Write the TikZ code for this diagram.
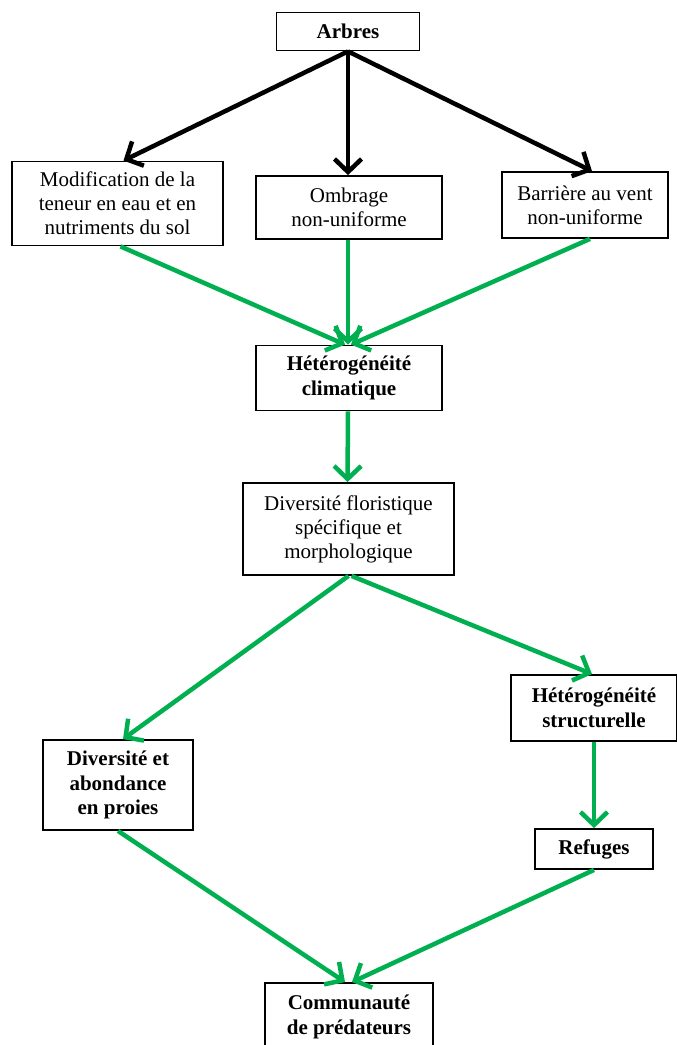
\documentclass[tikz,border=0pt]{standalone}
\usepackage{fontspec}
\setmainfont{Liberation Serif}
\usetikzlibrary{arrows.meta}
\definecolor{vert}{RGB}{0,176,80}

\begin{document}
\begin{tikzpicture}[x=1pt,y=-1pt,
    boite/.style={draw,line width=1.8pt,align=center,inner sep=0pt,font=\fontsize{21}{24}\selectfont},
    gras/.style={boite,font=\fontsize{21}{24.5}\selectfont\bfseries},
    fnoire/.style={-{Straight Barb[length=13pt,width=27pt,line width=4.5pt]},line width=4.5pt},
    fverte/.style={fnoire,draw=vert}]
  \useasboundingbox (0,0) rectangle (677,1045);
  % boites
  \node[gras,minimum width=143pt,minimum height=38pt] (arbres) at (348,31.5) {Arbres};
  \node[boite,minimum width=211pt,minimum height=84pt] (modif) at (117.5,203.5) {Modification de la\\teneur en eau et en\\nutriments du sol};
  \node[boite,minimum width=186pt,minimum height=63pt] (ombrage) at (349,207.5) {Ombrage\\non-uniforme};
  \node[boite,minimum width=166pt,minimum height=66pt] (barriere) at (585,205) {Barrière au vent\\non-uniforme};
  \node[gras,minimum width=186pt,minimum height=65pt] (hclim) at (349,378) {Hétérogénéité\\climatique};
  \node[boite,minimum width=211pt,minimum height=92pt] (flor) at (348.5,529) {Diversité floristique\\spécifique et\\morphologique};
  \node[gras,minimum width=150pt,minimum height=90pt] (proies) at (118,785) {Diversité et\\abondance\\en proies};
  \node[gras,minimum width=166pt,minimum height=66pt] (hstruct) at (594,708) {Hétérogénéité\\structurelle};
  \node[gras,minimum width=118pt,minimum height=40pt] (refuges) at (594,849) {Refuges};
  \node[gras,minimum width=168pt,minimum height=68pt] (comm) at (349,1017) {Communauté\\de prédateurs};
  % fleches
  \draw[fnoire] (arbres.south) -- ([xshift=6pt]modif.north);
  \draw[fnoire] (arbres.south) -- ([xshift=-1pt]ombrage.north);
  \draw[fnoire] (arbres.south) -- ([xshift=7pt]barriere.north);
  \draw[fverte] ([xshift=3pt]modif.south) -- ([xshift=-4pt]hclim.north);
  \draw[fverte] ([xshift=-1pt]ombrage.south) -- ([xshift=-1pt]hclim.north);
  \draw[fverte] ([xshift=5pt]barriere.south) -- ([xshift=2pt]hclim.north);
  \draw[fverte] ([xshift=-1pt]hclim.south) -- ([xshift=-1pt]flor.north);
  \draw[fverte] (flor.south) -- ([xshift=5pt]proies.north);
  \draw[fverte] ([xshift=3pt]flor.south) -- ([xshift=-2pt]hstruct.north);
  \draw[fverte] (hstruct.south) -- (refuges.north);
  \draw[fverte] (proies.south) -- ([xshift=-4pt]comm.north);
  \draw[fverte] (refuges.south) -- ([xshift=3pt]comm.north);
\end{tikzpicture}
\end{document}
